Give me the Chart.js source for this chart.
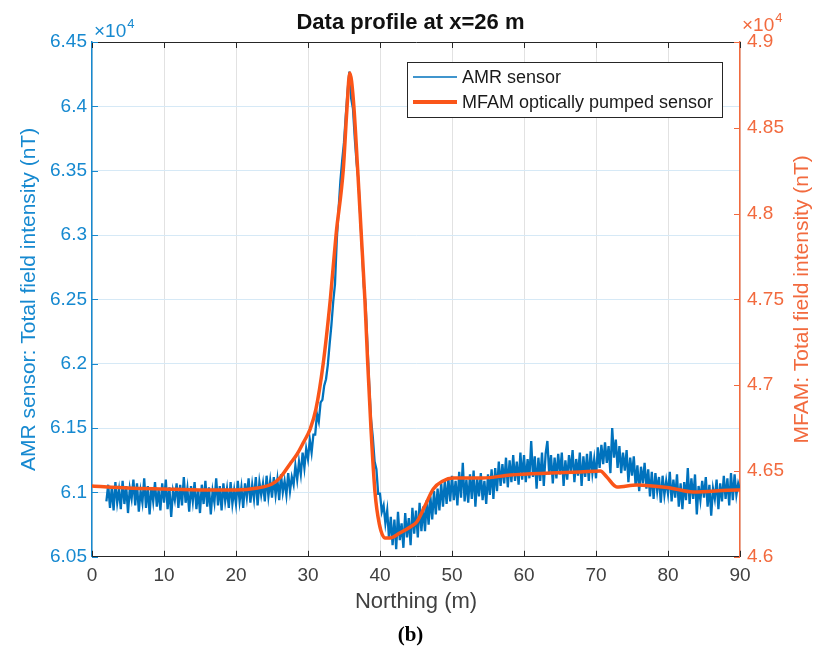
<!DOCTYPE html>
<html>
<head>
<meta charset="utf-8">
<script src="https://cdn.jsdelivr.net/npm/chart.js@4.4.0/dist/chart.umd.min.js"></script>
<style>
  html, body { margin: 0; padding: 0; background: #fff; }
</style>
</head>
<body>
<canvas id="myChart" width="821" height="662"></canvas>
<script>
// AMR sensor samples, every 0.25 m from 2 m (nT)
const amrStart = 2;
const amrStep = 0.25;
const amrValues = [
  60930, 61060, 60880, 61040, 60860, 61080, 60920, 61020,
  60870, 61090, 60910, 61050, 60840, 61030, 60950, 61100,
  60900, 61070, 60850, 61010, 60920, 61110, 60880, 61050,
  60830, 61040, 60930, 61080, 60890, 61020, 60860, 61070,
  60920, 61100, 60870, 61040, 60810, 61010, 60940, 61070,
  60880, 61060, 60900, 61120, 60920, 61030, 60850, 61050,
  60930, 61080, 60870, 61020, 60840, 61060, 60910, 61090,
  60890, 61040, 60830, 61010, 60920, 61110, 60900, 61050,
  60860, 61070, 60930, 61030, 60880, 61080, 60910, 61020,
  60910, 61090, 60930, 61040, 60880, 61070, 60960, 61110,
  60920, 61060, 60950, 61120, 60900, 61080, 60980, 61070,
  60930, 61130, 60970, 61090,
  60960, 61120, 60980, 61100, 60940, 61140, 61000, 61090,
  60980, 61150, 61010, 61120,
  61060, 61210, 61100, 61240,
  61140, 61310, 61190, 61340,
  61260, 61410, 61310, 61450,
  61450, 61610, 61550, 61700,
  61720, 61830, 61880, 61990,
  62150, 62300, 62480, 62620,
  62965, 63200, 63420, 63580,
  63720, 63930, 64120, 64270,
  64060, 63980, 63750, 63560,
  63430, 63150, 62890, 62600,
  62460, 62150, 61840, 61570,
  61430, 61240, 61180, 60990,
  60990, 60850, 60900, 60760,
  60860, 60640, 60810, 60590,
  60790, 60560, 60850, 60630,
  60760, 60570, 60840, 60650,
  60800, 60590, 60880, 60680,
  60860, 60650, 60920, 60700,
  60890, 60700, 60940, 60750,
  60970, 60790, 61010, 60830,
  61030, 60860, 61070, 60890,
  61090, 60910, 61110, 60930,
  61130, 60940, 61090, 60900,
  61160, 60960, 61230, 60930,
  61100, 60920, 61140, 60950,
  61170, 60890, 61110, 60970,
  61150, 60940, 61090, 60910,
  61140, 60980, 61180, 60950,
  61190, 61010, 61240, 61050,
  61220, 61070, 61270, 61040,
  61250, 61080, 61290, 61090,
  61240, 61060, 61310, 61100,
  61290, 61080, 61260, 61110,
  61400, 61120, 61280, 61030,
  61270, 61090, 61310, 61050,
  61300, 61400, 61140, 61290,
  61070, 61270, 61110, 61300,
  61140, 61310, 61050, 61250,
  61100, 61290, 61160, 61330,
  61080, 61260, 61130, 61310,
  61050, 61280, 61120, 61300,
  61090, 61320, 61150, 61260,
  61110, 61350, 61190, 61370,
  61220, 61390, 61230, 61360,
  61150, 61500, 61270, 61410,
  61190, 61360, 61150, 61310,
  61170, 61330, 61080, 61270,
  61130, 61280, 61050, 61210,
  61010, 61200, 61070, 61230,
  61030, 61180, 60970, 61160,
  60950, 61150, 61010, 61120,
  60920, 61130, 60980, 61090,
  60990, 61160, 60930, 61100,
  60960, 61140, 60890, 61070,
  60870, 61080, 60940, 61190,
  60910, 61110, 60950, 61140,
  60830, 61050, 60940, 61090,
  60960, 61120, 60890, 61060,
  60820, 61030, 60950, 61100,
  60870, 61070, 60930, 61130,
  60950, 61110, 60900, 61150,
  60940, 61140, 60980, 61070,
  61020
];

// MFAM optically pumped sensor (nT)
const mfamNorthing = [0, 5, 10, 15, 20, 23, 25, 26.1, 27.5, 28.5, 29.4, 30.3, 31.1, 32.1, 33.1, 33.9,
  34.9, 35.4, 35.8, 36.3, 36.9, 37.4, 37.9, 38.3, 38.75, 39.3, 39.9, 40.7, 41.4, 42.8, 44.2, 45.1,
  46.25, 47.4, 48.75, 50.1, 54.3, 58.1, 63.6, 67.8, 70.6, 71.5, 72.9, 75.7, 80.3, 83.5, 89.6, 90];
const mfamValues = [46413, 46401, 46395, 46390, 46390, 46401, 46424, 46460, 46541, 46599, 46669, 46744, 46860, 47122, 47500, 47878,
  48256, 48605, 48820, 48663, 48256, 47878, 47500, 47122, 46744, 46378, 46192, 46110, 46110, 46140, 46174, 46203,
  46297, 46395, 46442, 46459, 46459, 46477, 46488, 46494, 46500, 46465, 46407, 46419, 46401, 46378, 46390, 46390];

const northingTicks = [0, 10, 20, 30, 40, 50, 60, 70, 80, 90];
const amrTickValues = [60500, 61000, 61500, 62000, 62500, 63000, 63500, 64000, 64500];
const amrTickLabels = ["6.05", "6.1", "6.15", "6.2", "6.25", "6.3", "6.35", "6.4", "6.45"];
const mfamTickValues = [46000, 46500, 47000, 47500, 48000, 48500, 49000];
const mfamTickLabels = ["4.6", "4.65", "4.7", "4.75", "4.8", "4.85", "4.9"];

const blue = "#0072BD";
const blueAxis = "#1689D0";
const orange = "#FA5519";
const orangeAxis = "#F26A3E";
const fontFamily = "'Liberation Sans', Arial, Helvetica, sans-serif";

Chart.defaults.font.family = fontFamily;

const amrPoints = amrValues.map((v, i) => ({ x: amrStart + i * amrStep, y: v }));
const mfamPoints = mfamValues.map((v, i) => ({ x: mfamNorthing[i], y: v }));

const decorations = {
  id: "decorations",
  afterDraw(chart) {
    const { ctx, chartArea: a, scales } = chart;
    ctx.save();
    // inward tick marks
    ctx.lineWidth = 1;
    ctx.strokeStyle = "#262626";
    northingTicks.forEach((t) => {
      const px = Math.round(scales.x.getPixelForValue(t)) + 0.5;
      ctx.beginPath();
      ctx.moveTo(px, a.bottom); ctx.lineTo(px, a.bottom - 6);
      ctx.moveTo(px, a.top); ctx.lineTo(px, a.top + 6);
      ctx.stroke();
    });
    ctx.strokeStyle = blueAxis;
    amrTickValues.forEach((t) => {
      const py = Math.round(scales.y.getPixelForValue(t)) + 0.5;
      ctx.beginPath(); ctx.moveTo(a.left, py); ctx.lineTo(a.left + 6, py); ctx.stroke();
    });
    ctx.strokeStyle = orangeAxis;
    mfamTickValues.forEach((t) => {
      const py = Math.round(scales.y1.getPixelForValue(t)) + 0.5;
      ctx.beginPath(); ctx.moveTo(a.right, py); ctx.lineTo(a.right - 6, py); ctx.stroke();
    });

    // exponent labels
    ctx.textBaseline = "alphabetic";
    ctx.textAlign = "left";
    ctx.fillStyle = blueAxis;
    ctx.font = "19px " + fontFamily;
    ctx.fillText("\u00d710", a.left + 2, a.top - 5);
    let w = ctx.measureText("\u00d710").width;
    ctx.font = "13px " + fontFamily;
    ctx.fillText("4", a.left + 3 + w, a.top - 14);
    ctx.fillStyle = orangeAxis;
    ctx.font = "19px " + fontFamily;
    ctx.fillText("\u00d710", a.right + 2, a.top - 11);
    w = ctx.measureText("\u00d710").width;
    ctx.font = "13px " + fontFamily;
    ctx.fillText("4", a.right + 3 + w, a.top - 20);

    // right axis title, reading bottom to top
    ctx.save();
    ctx.translate(802, (a.top + a.bottom) / 2);
    ctx.rotate(-Math.PI / 2);
    ctx.textAlign = "center";
    ctx.textBaseline = "middle";
    ctx.font = "21px " + fontFamily;
    ctx.fillStyle = orangeAxis;
    ctx.fillText("MFAM: Total field intensity (nT)", 0, 0);
    ctx.restore();

    // legend box inside the axes
    const lx = 407, ly = 62, lw = 315, lh = 55;
    ctx.fillStyle = "#fff";
    ctx.fillRect(lx, ly, lw, lh);
    ctx.strokeStyle = "#262626";
    ctx.lineWidth = 1;
    ctx.strokeRect(lx + 0.5, ly + 0.5, lw, lh);
    ctx.font = "18px " + fontFamily;
    ctx.textBaseline = "middle";
    ctx.textAlign = "left";
    const rows = [chart.data.datasets[1], chart.data.datasets[0]];
    rows.forEach((ds, i) => {
      const y = ly + 15 + i * 25;
      ctx.strokeStyle = ds.borderColor;
      ctx.lineWidth = i === 0 ? 1.5 : 4;
      ctx.beginPath(); ctx.moveTo(lx + 6, y); ctx.lineTo(lx + 50, y); ctx.stroke();
      ctx.fillStyle = "#1a1a1a";
      ctx.fillText(ds.label, lx + 55, y + 1);
    });
    ctx.restore();
  }
};

const ctx = document.getElementById("myChart").getContext("2d");
const myChart = new Chart(ctx, {
  type: "line",
  data: {
    datasets: [
      {
        label: "MFAM optically pumped sensor",
        data: mfamPoints,
        yAxisID: "y1",
        borderColor: orange,
        borderWidth: 3.5,
        pointRadius: 0,
        cubicInterpolationMode: "monotone",
        order: 0,
      },
      {
        label: "AMR sensor",
        data: amrPoints,
        yAxisID: "y",
        borderColor: blue,
        borderWidth: 2.3,
        pointRadius: 0,
        tension: 0,
        order: 1,
      },
    ],
  },
  options: {
    responsive: false,
    animation: false,
    devicePixelRatio: 1,
    layout: { padding: { top: 0, bottom: 12, left: 0, right: 0 } },
    plugins: {
      legend: { display: false },
      tooltip: { enabled: false },
      title: {
        display: true,
        text: "Data profile at x=26 m",
        color: "#111",
        font: { size: 22, weight: "bold" },
        padding: { top: 10, bottom: 5.6 },
      },
      subtitle: {
        display: true,
        position: "bottom",
        text: "(b)",
        color: "#000",
        font: { size: 21, weight: "bold", family: "'Liberation Serif', 'Times New Roman', serif" },
        padding: { top: 4, bottom: 2 },
      },
    },
    scales: {
      x: {
        type: "linear",
        min: 0,
        max: 90,
        afterBuildTicks: (s) => { s.ticks = northingTicks.map((v) => ({ value: v })); },
        afterFit: (s) => { s.height = 62; },
        ticks: { color: "#404040", font: { size: 19 }, padding: 8 },
        grid: { color: "#e2e2e2", drawTicks: false },
        border: { color: "#262626", width: 1 },
        title: {
          display: true,
          text: "Northing (m)",
          color: "#404040",
          font: { size: 22 },
          padding: { top: 0, bottom: 4 },
        },
      },
      xTop: {
        type: "linear",
        position: "top",
        min: 0,
        max: 90,
        ticks: { display: false },
        grid: { drawOnChartArea: false, drawTicks: false },
        border: { color: "#262626", width: 1 },
        afterFit: (s) => { s.height = 0; },
      },
      y: {
        position: "left",
        min: 60500,
        max: 64500,
        afterBuildTicks: (s) => { s.ticks = amrTickValues.map((v) => ({ value: v })); },
        afterFit: (s) => { s.width = 92; },
        ticks: {
          color: blueAxis,
          font: { size: 19 },
          padding: 5,
          callback: (v) => amrTickLabels[amrTickValues.indexOf(v)],
        },
        grid: { color: "#d6e9f6", drawTicks: false },
        border: { color: blueAxis, width: 1.5 },
        title: {
          display: true,
          text: "AMR sensor: Total field intensity (nT)",
          color: blueAxis,
          font: { size: 21 },
          padding: { top: 17, bottom: 0 },
        },
      },
      y1: {
        position: "right",
        min: 46000,
        max: 49000,
        afterBuildTicks: (s) => { s.ticks = mfamTickValues.map((v) => ({ value: v })); },
        afterFit: (s) => { s.width = 81; },
        ticks: {
          color: orangeAxis,
          font: { size: 19 },
          padding: 7,
          callback: (v) => mfamTickLabels[mfamTickValues.indexOf(v)],
        },
        grid: { drawOnChartArea: false, drawTicks: false },
        border: { color: orangeAxis, width: 1.5 },
      },
    },
  },
  plugins: [decorations],
});
</script>
</body>
</html>
